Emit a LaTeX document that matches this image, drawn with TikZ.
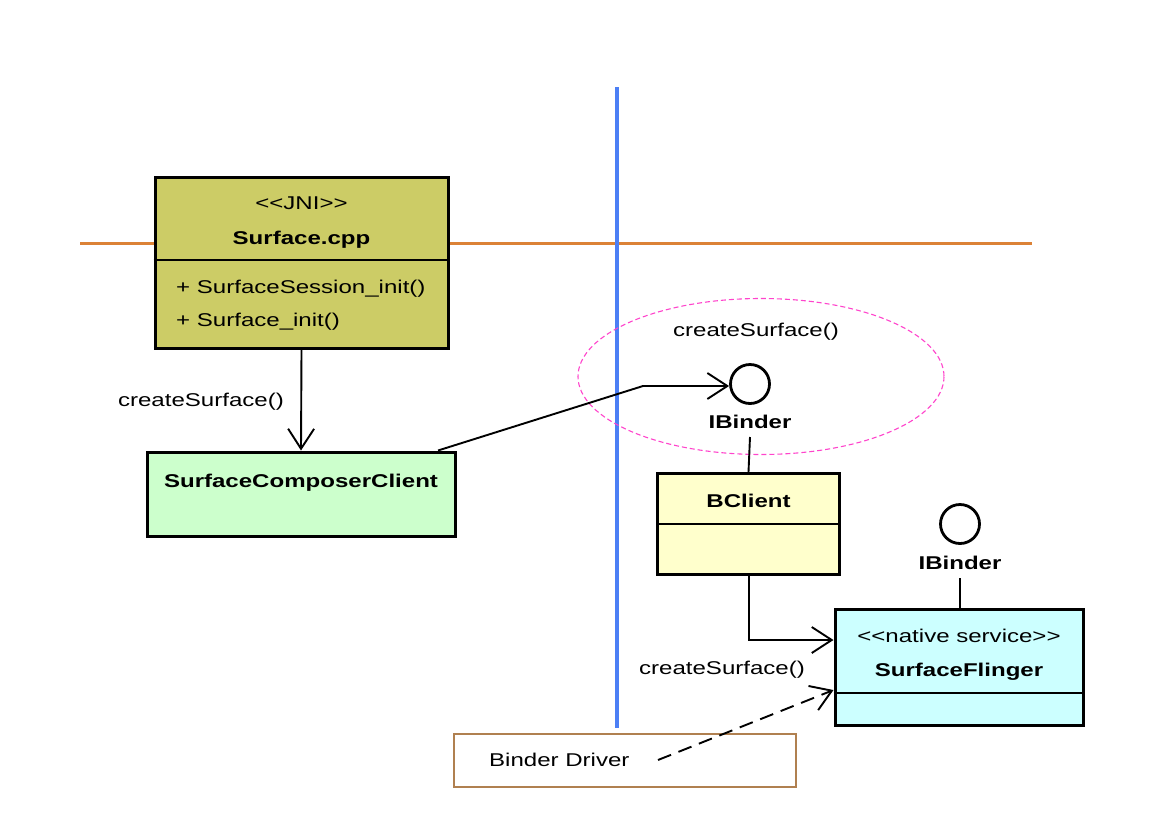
\documentclass[tikz,border=0pt]{standalone}
\usepackage{fontspec}
\setmainfont{Liberation Sans}[FakeStretch=1.3]
\usetikzlibrary{arrows.meta}
\definecolor{olivebox}{HTML}{CCCC66}
\definecolor{greenbox}{HTML}{CCFFCC}
\definecolor{yellowbox}{HTML}{FFFFCC}
\definecolor{cyanbox}{HTML}{CCFFFF}
\definecolor{orangeline}{HTML}{DC8236}
\definecolor{blueline}{HTML}{4C7FF5}
\definecolor{pinkdash}{HTML}{FF44CC}
\definecolor{brownbox}{HTML}{B08050}
\tikzset{
  txt/.style={inner sep=0pt, text height=13pt, text depth=0pt, font=\fontsize{18.5}{22}\selectfont},
  btxt/.style={txt, font=\fontsize{18.5}{22}\selectfont\bfseries},
  umlbox/.style={draw=black, line width=3pt, minimum width=#1},
  conn/.style={line width=1.9pt, draw=black},
  openarrow/.style={-{Straight Barb[length=20pt,width=26pt,line width=1.9pt]}},
  iface/.style={circle, draw=black, line width=2.8pt, minimum size=39pt, inner sep=0pt, fill=white},
}
\begin{document}
\begin{tikzpicture}[x=1pt,y=-1pt]
\useasboundingbox[fill=white] (0,0) rectangle (1154,836);

% separator lines
\draw[orangeline, line width=3pt] (80,243) coordinate (ol) -- (1032,243) coordinate (or);
\draw[blueline, line width=3.5pt] (617,87) coordinate (bt) -- (617,728) coordinate (bb);

% dashed ellipse
\draw[pinkdash, line width=1.1pt, dash pattern=on 5pt off 3pt] (761,376.5) ellipse [x radius=183, y radius=78];

% Surface.cpp
\node[umlbox=293pt, minimum height=171pt, fill=olivebox, inner sep=0pt] (surf) at (301.5,262.5) {};
\draw[line width=1.5pt] (surf.west |- 0,260) -- (surf.east |- 0,260);
\node[txt] (jni) at (301.5,203) {<{}<JNI>{}>};
\node[btxt] (surfname) at (301.5,238) {Surface.cpp};
\node[txt, anchor=west] (m1) at (176,287) {+ SurfaceSession\_init()};
\node[txt, anchor=west] (m2) at (176,320) {+ Surface\_init()};

% SurfaceComposerClient
\node[umlbox=308pt, minimum height=84pt, fill=greenbox, inner sep=0pt] (scc) at (301,494) {};
\node[btxt] (sccname) at (301,481) {SurfaceComposerClient};

% arrow Surface.cpp -> SCC
\draw[conn, openarrow] (surf.south) -- (scc.north);
\node[txt, anchor=east] (lbl1) at (284,400) {createSurface()};

% IBinder 1
\node[iface] (ib1) at (750,384) {};
\node[btxt] (ib1lbl) at (750,422) {IBinder};
\node[txt] (lbl2) at (756,330) {createSurface()};

% BClient
\node[umlbox=182pt, minimum height=101pt, fill=yellowbox, inner sep=0pt] (bc) at (748.5,524) {};
\draw[line width=1.5pt] (bc.west |- 0,524) -- (bc.east |- 0,524);
\node[btxt] (bcname) at (748.5,501) {BClient};
\draw[conn] (ib1lbl.south |- 0,437) -- (bc.north);

% SCC -> IBinder
\coordinate (kink) at (643,386);
\draw[conn, openarrow] (scc.north -| 438,0) -- (kink) -- (ib1.west |- kink);

% SurfaceFlinger
\node[umlbox=248pt, minimum height=116pt, fill=cyanbox, inner sep=0pt] (sf) at (959,667) {};
\draw[line width=1.5pt] (sf.west |- 0,693) -- (sf.east |- 0,693);
\node[txt] (ns) at (959,636) {<{}<native service>{}>};
\node[btxt] (sfname) at (959,670) {SurfaceFlinger};

% IBinder 2
\node[iface] (ib2) at (960,524) {};
\node[btxt] (ib2lbl) at (960,563) {IBinder};
\draw[conn] (ib2lbl.south |- 0,578) -- (ib2lbl.south |- sf.north);

% BClient -> SurfaceFlinger
\coordinate (bend) at (749,640);
\draw[conn, openarrow] (bc.south -| bend) -- (bend) -- (sf.west |- bend);
\node[txt] (lbl3) at (722,668) {createSurface()};

% Binder Driver
\node[draw=brownbox, line width=1.5pt, minimum width=342pt, minimum height=53pt, fill=white, inner sep=0pt] (bd) at (625,760.5) {};
\node[txt, anchor=west] (bdname) at (489,760) {Binder Driver};
\coordinate (dstart) at (658,760);
\draw[conn, dash pattern=on 14pt off 8pt, openarrow] (dstart) -- (sf.west |- 0,690);
\end{tikzpicture}
\end{document}
